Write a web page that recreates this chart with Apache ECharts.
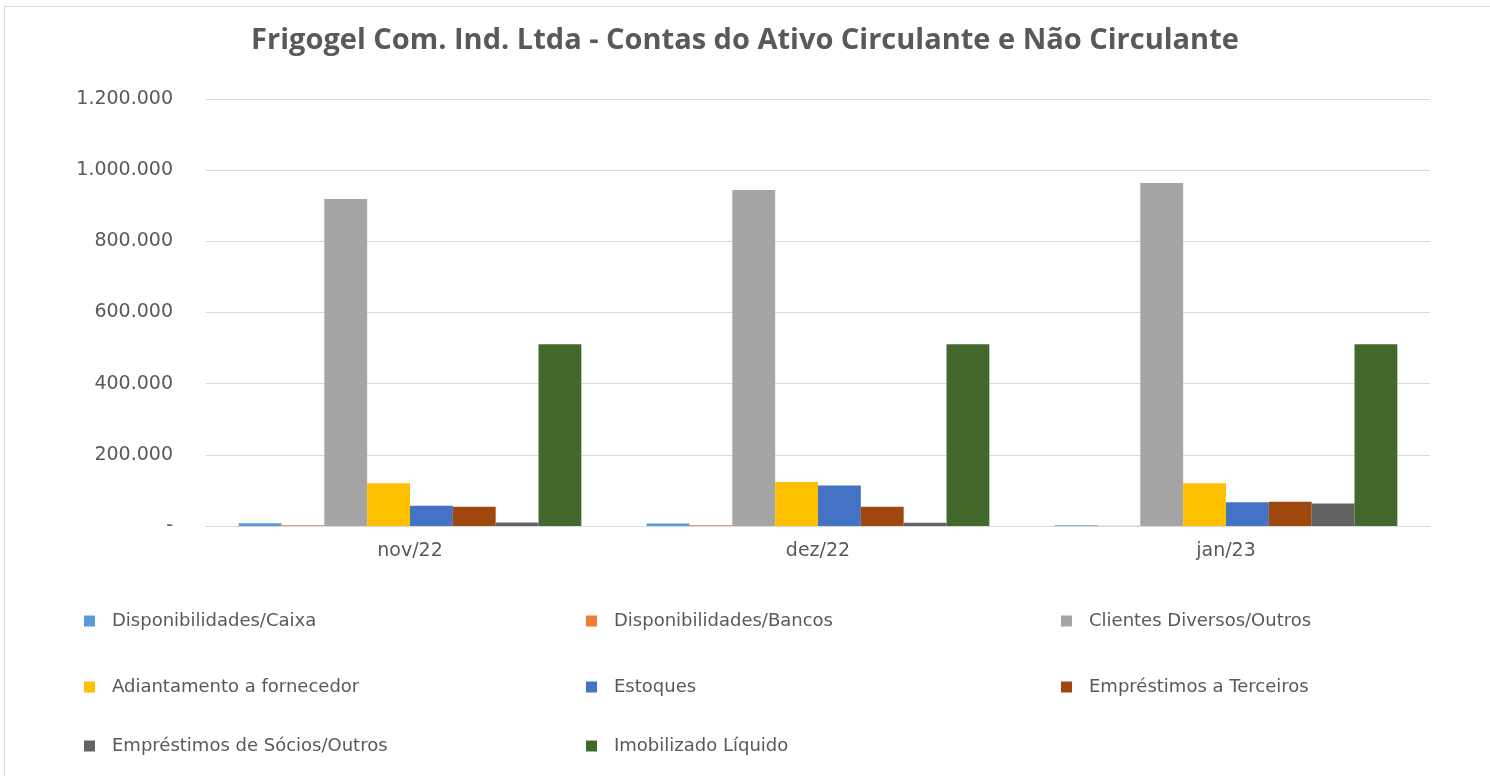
<!DOCTYPE html>
<html>
<head>
<meta charset="utf-8">
<script src="https://cdn.jsdelivr.net/npm/echarts@6/dist/echarts.min.js"></script>
<style>
  html, body { margin: 0; padding: 0; background: #fff; }
  #frame { position: absolute; left: 4px; top: 6px; width: 1500px; height: 780px; border: 1px solid #d9d9d9; box-sizing: border-box; }
  #chart { position: absolute; left: 0; top: 0; width: 1490px; height: 776px; }
</style>
</head>
<body>
<div id="frame"></div>
<div id="chart"></div>
<script>
// categorias e séries
var categorias = ['nov/22', 'dez/22', 'jan/23']
var caixa = [8000, 7000, 2000]
var bancos = [2000, 2000, 1000]
var clientes = [919000, 944000, 964000]
var adiantamento = [120000, 124000, 120000]
var estoques = [57000, 114000, 67000]
var terceiros = [54000, 54000, 68000]
var socios = [10000, 9000, 63000]
var imobilizado = [511000, 511000, 511000]

var nomes = ['Disponibilidades/Caixa', 'Disponibilidades/Bancos', 'Clientes Diversos/Outros',
    'Adiantamento a fornecedor', 'Estoques', 'Empréstimos a Terceiros',
    'Empréstimos de Sócios/Outros', 'Imobilizado Líquido']
var valores = [caixa, bancos, clientes, adiantamento, estoques, terceiros, socios, imobilizado]
var cores = ['#5B9BD5', '#ED7D31', '#A5A5A5', '#FFC000', '#4472C4', '#9E480E', '#636363', '#43682B']

var txt = '#595959'
var fonte = 'DejaVu Sans'

function fmt(v) {
    if (v === 0) return '-'
    return String(v).replace(/\B(?=(\d{3})+(?!\d))/g, '.')
}

// posição de cada item da legenda (3 colunas)
var colX = [84, 586, 1061]
var rowY = [612, 678, 737]

var legendas = nomes.map((n, i) => ({
    data: [n],
    left: colX[i % 3],
    top: rowY[Math.floor(i / 3)],
    itemWidth: 11,
    itemHeight: 11,
    itemGap: 0,
    icon: 'rect',
    padding: 0,
    textStyle: { color: txt, fontSize: 18, fontFamily: fonte, padding: [0, 0, 0, 12] }
}))

var option = {
    color: cores,
    animation: false,
    title: {
        text: 'Frigogel Com. Ind. Ltda - Contas do Ativo Circulante e Não Circulante',
        left: 'center',
        top: 26,
        padding: 0,
        textStyle: { color: txt, fontSize: 29, fontWeight: 'bold', fontFamily: 'Open Sans' }
    },
    legend: legendas,
    grid: { left: 206, right: 60, top: 99, height: 427 },
    xAxis: {
        type: 'category',
        data: categorias,
        axisTick: { show: false },
        axisLine: { lineStyle: { color: '#d9d9d9', width: 1 } },
        axisLabel: { color: txt, fontSize: 19, fontFamily: fonte, margin: 16 }
    },
    yAxis: {
        type: 'value',
        min: 0,
        max: 1200000,
        interval: 200000,
        axisLine: { show: false },
        axisTick: { show: false },
        splitLine: { lineStyle: { color: '#d9d9d9', width: 1 } },
        axisLabel: { color: txt, fontSize: 19, fontFamily: fonte, margin: 33, formatter: fmt }
    },
    series: nomes.map((n, i) => ({
        name: n,
        type: 'bar',
        data: valores[i],
        barGap: '0%',
        barCategoryGap: '16%'
    }))
}

var chart = echarts.init(document.getElementById('chart'))
chart.setOption(option)
</script>
</body>
</html>
